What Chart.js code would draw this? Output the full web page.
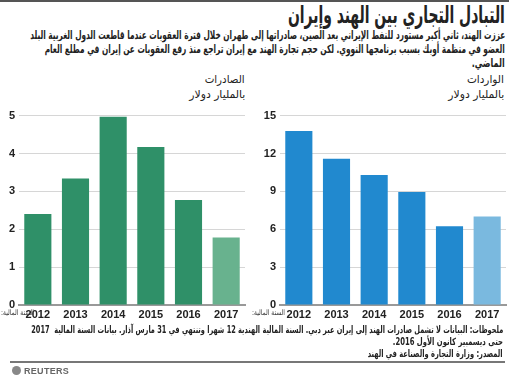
<!DOCTYPE html>
<html><head><meta charset="utf-8">
<script src="https://cdn.jsdelivr.net/npm/chart.js@4"></script>
<style>
html,body{margin:0;padding:0;background:#fff;}
body{width:509px;height:378px;position:relative;overflow:hidden;font-family:"DejaVu Sans Condensed","DejaVu Sans","Liberation Sans",sans-serif;color:#222;}
.ln{position:absolute;direction:rtl;white-space:nowrap;}
.ln span{display:inline-block;transform-origin:right center;}
#topbar{position:absolute;left:0;top:0;width:509px;height:2px;background:#555;}
.b{font-weight:bold;}
canvas{position:absolute;}
#bline{position:absolute;left:10px;top:361px;width:495px;height:2px;background:#777;}
#logo{position:absolute;left:12px;top:366px;font-family:"Liberation Sans",sans-serif;font-size:9px;font-weight:bold;color:#666;letter-spacing:0.3px;}
#logo i{display:inline-block;width:9px;height:9px;border-radius:50%;background:#888;vertical-align:-1px;margin-right:3px;}
</style></head><body>
<div id="topbar"></div>
<div class="ln b" style="right:4px;top:1px;font-size:24px;line-height:28px;"><span data-w="217">التبادل التجاري بين الهند وإيران</span></div>
<div class="ln b" style="right:4px;top:28px;font-size:11.5px;line-height:14px;"><span data-w="475">عززت الهند، ثاني أكبر مستورد للنفط الإيراني بعد الصين، صادراتها إلى طهران خلال فترة العقوبات عندما قاطعت الدول الغربية البلد</span></div>
<div class="ln b" style="right:4px;top:42px;font-size:11.5px;line-height:14px;"><span data-w="460">العضو في منظمة أوبك بسبب برنامجها النووي. لكن حجم تجارة الهند مع إيران تراجع منذ رفع العقوبات عن إيران في مطلع العام</span></div>
<div class="ln b" style="right:4px;top:56px;font-size:11.5px;line-height:14px;"><span data-w="33">الماضي.</span></div>
<div class="ln" style="right:264px;top:73px;font-size:11px;line-height:14px;"><span data-w="40">الصادرات</span></div>
<div class="ln" style="right:264px;top:88px;font-size:11px;line-height:14px;"><span data-w="56">بالمليار دولار</span></div>
<div class="ln" style="right:5px;top:73px;font-size:11px;line-height:14px;"><span data-w="37">الواردات</span></div>
<div class="ln" style="right:5px;top:88px;font-size:11px;line-height:14px;"><span data-w="56">بالمليار دولار</span></div>
<canvas id="c1" width="250" height="218" style="left:0;top:105px;width:250px;height:218px;"></canvas>
<canvas id="c2" width="259" height="218" style="left:250px;top:105px;width:259px;height:218px;"></canvas>
<div class="ln" style="left:1px;top:308px;font-size:7.5px;line-height:10px;color:#333;"><span data-w="33" style="transform-origin:left center;">السنة المالية:</span></div>
<div class="ln" style="left:252px;top:308px;font-size:7.5px;line-height:10px;color:#333;"><span data-w="33" style="transform-origin:left center;">السنة المالية:</span></div>
<div class="ln b" style="right:6px;top:323px;font-size:10px;line-height:13px;"><span data-w="472">ملحوظات: البيانات لا تشمل صادرات الهند إلى إيران عبر دبي. السنة المالية الهندية 12 شهرا وتنتهي في 31 مارس آذار. بيانات السنة المالية&nbsp; 2017</span></div>
<div class="ln b" style="right:6px;top:335px;font-size:10px;line-height:13px;"><span data-w="110">حتى ديسمبير كانون الأول 2016.</span></div>
<div class="ln b" style="right:6px;top:347px;font-size:10px;line-height:13px;"><span data-w="135">المصدر: وزارة التجارة والصناعة في الهند</span></div>
<div id="bline"></div>
<div id="logo"><i></i>REUTERS</div>
<script>
const years = ["2012","2013","2014","2015","2016","2017"];
const exportsBn = [2.40, 3.34, 4.97, 4.17, 2.77, 1.78];
const importsBn = [13.79, 11.58, 10.29, 8.95, 6.24, 7.00];
const exportsTicks = {min:0, max:5, step:1};
const importsTicks = {min:0, max:15, step:3};
const exportsColors = ["#2f9068","#2f9068","#2f9068","#2f9068","#2f9068","#68b28e"];
const importsColors = ["#2189cf","#2189cf","#2189cf","#2189cf","#2189cf","#7ab9df"];

document.querySelectorAll('span[data-w]').forEach(s=>{
  const w = s.getBoundingClientRect().width;
  const t = parseFloat(s.dataset.w);
  if (w>0) s.style.transform = 'scaleX(' + (t/w) + ')';
});

function makeChart(id, data, colors, tk, yw, padRight){
  new Chart(document.getElementById(id), {
    type:'bar',
    data:{labels:years, datasets:[{data:data, backgroundColor:colors, borderWidth:0, barPercentage:0.72, categoryPercentage:1}]},
    options:{
      responsive:false, animation:false, devicePixelRatio:1,
      layout:{padding:{top:10,right:padRight,left:0,bottom:0}},
      plugins:{legend:{display:false},tooltip:{enabled:false}},
      scales:{
        x:{grid:{display:false,drawTicks:false},border:{display:true,color:'#999',width:2},
           ticks:{color:'#222',font:{family:'Liberation Sans',size:11,weight:'bold'},padding:3,maxRotation:0},
           afterFit:s=>{s.height=18;}},
        y:{min:tk.min,max:tk.max,grid:{color:'#d6d6d6',lineWidth:1,drawTicks:false},border:{display:false},
           ticks:{stepSize:tk.step,color:'#222',font:{family:'Liberation Sans',size:11,weight:'bold'},padding:4},
           afterFit:s=>{s.width=yw;}}
      }
    }
  });
}
makeChart('c1', exportsBn, exportsColors, exportsTicks, 19, 5);
makeChart('c2', importsBn, importsColors, importsTicks, 30, 3);
</script>
</body></html>
